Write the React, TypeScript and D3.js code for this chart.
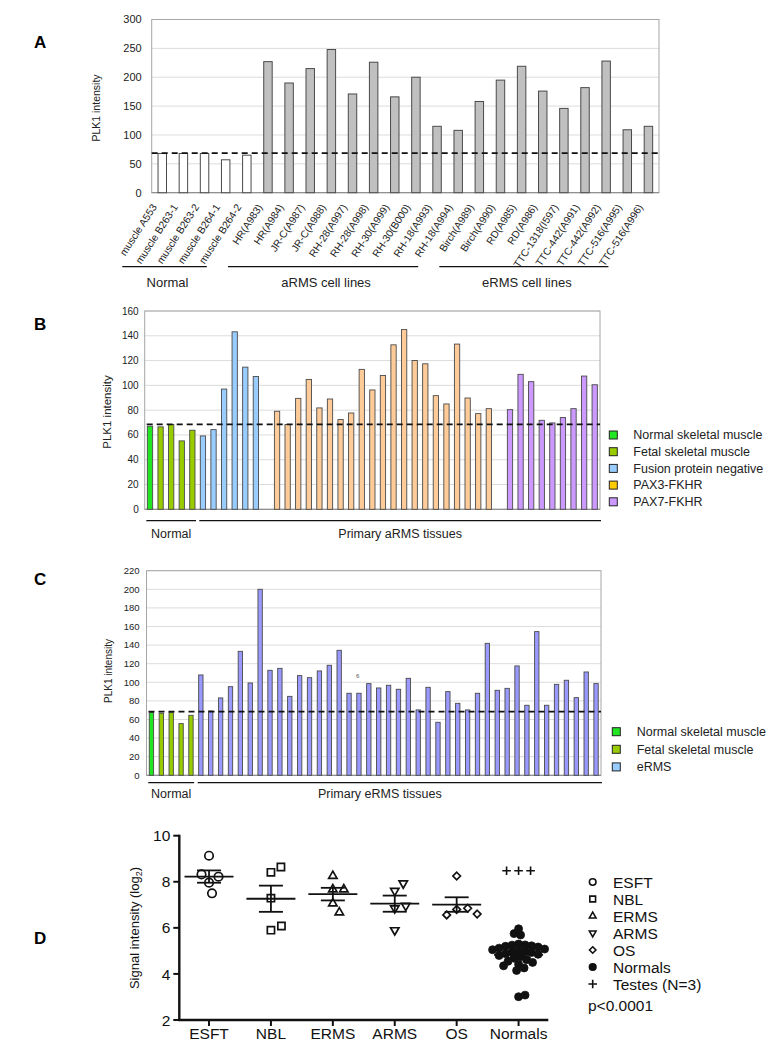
import React from "react";
import * as d3 from "d3";

// ---------------- Panel A data ----------------
const aLabels = [
  "muscle A553", "muscle B263-1", "muscle B263-2", "muscle B264-1", "muscle B264-2",
  "HR(A983)", "HR(A984)", "JR-C(A987)", "JR-C(A988)", "RH-28(A997)", "RH-28(A998)",
  "RH-30(A999)", "RH-30(B000)", "RH-18(A993)", "RH-18(A994)",
  "Birch(A989)", "Birch(A990)", "RD(A985)", "RD(A986)", "TTC-1318(I597)",
  "TTC-442(A991)", "TTC-442(A992)", "TTC-516(A995)", "TTC-516(A996)",
];
const aValues = [68, 68, 68, 57, 65, 227, 190, 215, 248, 171, 226, 166, 200, 115, 108, 158, 195, 219, 176, 146, 182, 228, 109, 115];
const aGroupNames = ["Normal", "aRMS cell lines", "eRMS cell lines"];
const aGroupOf = [0, 0, 0, 0, 0, 1, 1, 1, 1, 1, 1, 1, 1, 1, 1, 2, 2, 2, 2, 2, 2, 2, 2, 2];
const aTicks = [0, 50, 100, 150, 200, 250, 300];

// ---------------- Panel B data ----------------
const bNormal = [67];
const bFetal = [66.5, 68.4, 55.2, 63.8];
const bFusionNeg = [59.2, 64.3, 97, 143.2, 114.7, 107.2];
const bPax3 = [79.1, 68.4, 89.5, 104.8, 81.8, 89, 72.4, 77.7, 112.9, 96.3, 108, 132.7, 145, 120.1, 117.4, 91.7, 85, 133.3, 89.8, 77.2, 81.2];
const bPax7 = [80.4, 108.9, 103, 71.8, 69.7, 74, 81.2, 107.5, 100.5];
const bTicks = [0, 20, 40, 60, 80, 100, 120, 140, 160];
const bLegend = ["Normal skeletal muscle", "Fetal skeletal muscle", "Fusion protein negative", "PAX3-FKHR", "PAX7-FKHR"];

// ---------------- Panel C data ----------------
const cNormal = [67.4];
const cFetal = [66.7, 67.4, 55.6, 64.5];
const cERMS = [107.9, 69.2, 83.2, 95.3, 133.3, 99.3, 200, 112.9, 115, 84.9, 107.2, 105, 112.2, 118.3, 134.4, 88.2, 88.2, 98.6, 93.9, 96.8, 92.5, 104.3, 70.3, 94.6, 57, 90, 77.4, 70.3, 88.2, 141.9, 91.4, 93.5, 117.6, 75.3, 154.5, 75.3, 97.8, 102.2, 83.5, 111.1, 98.6];
const cTicks = [0, 20, 40, 60, 80, 100, 120, 140, 160, 180, 200, 220];
const cLegend = ["Normal skeletal muscle", "Fetal skeletal muscle", "eRMS"];

const THRESHOLD = 68.5;

// ---------------- Panel D data ----------------
const dCategories = ["ESFT", "NBL", "ERMS", "ARMS", "OS", "Normals"];
const dESFT = [9.13, 7.96, 7.5, 8.22, 8.32];
const dNBL = [8.41, 8.64, 7.29, 5.9, 6.08];
const dERMS = [8.25, 7.67, 7.67, 7.06, 6.67];
const dARMS = [7.61, 7.93, 6.85, 6.96, 5.9];
const dOS = [8.25, 6.8, 6.85, 6.56, 6.6];
const dNormals = [5.96, 5.69, 5.75, 5.3, 5.26, 5.25, 5.22, 5.2, 5.17, 5.12, 5.08, 5.05, 5.02, 4.98, 4.95, 4.93, 4.88, 4.85, 4.8, 4.75, 4.68, 4.62, 4.55, 4.5, 4.42, 4.35, 4.26, 4.15, 3.01, 3.08];
const dTestes = [8.48, 8.48, 8.48];
const dTicks = [2, 4, 6, 8, 10];
const dLegend = ["ESFT", "NBL", "ERMS", "ARMS", "OS", "Normals", "Testes (N=3)"];

const FONT = "'Liberation Sans', Arial, Helvetica, sans-serif";
const GRID = "#dcdcdc";
const FRAME = "#a6a6a6";
const BAR_STROKE = "#4a4a4a";

const COLORS = {
  normal: "#22e622",
  fetal: "#99cc00",
  fusion: "#99ccff",
  pax3: "#ffcc99",
  pax3Legend: "#ffcc00",
  pax7: "#cc99ff",
  erms: "#9999ff",
  ermsLegend: "#99ccff",
};

function PanelA() {
  const x0 = 151.7, x1 = 659, top = 19.5, base = 192.7;
  const x = d3.scaleBand<number>().domain(d3.range(aValues.length)).range([x0, x1]).paddingInner(0.6).paddingOuter(0.3);
  const y = d3.scaleLinear().domain([0, 300]).range([base, top]);
  const bw = x.bandwidth();
  const groups = aGroupNames.map((name, g) => {
    const idx = aGroupOf.map((v, i) => (v === g ? i : -1)).filter((i) => i >= 0);
    const first = (x(idx[0]) as number) + bw / 2 - 40;
    const last = (x(idx[idx.length - 1]) as number) + bw / 2 - 40;
    return { name, first, last };
  });
  return (
    <g>
      <text x={34} y={48} fontSize={17} fontWeight="bold" fontFamily={FONT}>A</text>
      {aTicks.slice(1).map((t) => (
        <line key={t} x1={x0} x2={x1} y1={y(t)} y2={y(t)} stroke={GRID} strokeWidth={1} />
      ))}
      <rect x={x0} y={top} width={x1 - x0} height={base - top} fill="none" stroke={FRAME} strokeWidth={1} />
      <line x1={x0} x2={x1} y1={base} y2={base} stroke="#888" strokeWidth={1} />
      {aTicks.map((t) => (
        <text key={t} x={x0 - 10} y={y(t)} dy="0.35em" textAnchor="end" fontSize={11} fontFamily={FONT} fill="#222">{t}</text>
      ))}
      <text transform={`translate(100,108) rotate(-90)`} textAnchor="middle" fontSize={10.5} fontFamily={FONT} fill="#222">PLK1 intensity</text>
      {aValues.map((v, i) => (
        <rect key={i} x={x(i)} y={y(v)} width={bw} height={base - y(v)} fill={aGroupOf[i] === 0 ? "#ffffff" : "#c0c0c0"} stroke={BAR_STROKE} strokeWidth={1} />
      ))}
      <line x1={x0} x2={x1} y1={y(THRESHOLD)} y2={y(THRESHOLD)} stroke="#111" strokeWidth={1.6} strokeDasharray="6,4" />
      {aLabels.map((l, i) => {
        const cx = (x(i) as number) + bw / 2 - 5;
        return (
          <text key={l} transform={`translate(${cx},207) rotate(-57)`} textAnchor="end" fontSize={10.3} fontFamily={FONT} fill="#222">{l}</text>
        );
      })}
      {groups.map((g) => (
        <g key={g.name}>
          <line x1={g.first} x2={g.last} y1={266.7} y2={266.7} stroke="#111" strokeWidth={1.3} />
          <text x={(g.first + g.last) / 2 + 3} y={286.5} textAnchor="middle" fontSize={13} fontFamily={FONT} fill="#222">{g.name}</text>
        </g>
      ))}
    </g>
  );
}

type Slot = { v: number | null; color: string };

function buildSlots(series: { values: number[]; color: string; gapBefore: boolean }[]): Slot[] {
  const slots: Slot[] = [];
  series.forEach((s) => {
    if (s.gapBefore) slots.push({ v: null, color: "none" });
    s.values.forEach((v) => slots.push({ v, color: s.color }));
  });
  return slots;
}

function BarPanel(props: {
  letter: string; letterY: number;
  slots: Slot[]; x0: number; x1: number; top: number; base: number; yMax: number; ticks: number[];
  padInner: number; padOuter: number; tickFont: number; tickGap: number;
  yLabelX: number; yLabelY: number; yLabelFont: number;
  groupSplit: number; groupLineY: number; groupTextY: number; primaryLabel: string; primaryShift: number;
  legend: string[]; legendColors: string[]; legendX: number; legendTextX: number; legendY0: number; legendStep: number;
  extra?: React.ReactNode;
}) {
  const p = props;
  const x = d3.scaleBand<number>().domain(d3.range(p.slots.length)).range([p.x0, p.x1]).paddingInner(p.padInner).paddingOuter(p.padOuter);
  const y = d3.scaleLinear().domain([0, p.yMax]).range([p.base, p.top]);
  const bw = x.bandwidth();
  const nStart = (x(0) as number) - 1;
  const nEnd = (x(p.groupSplit - 1) as number) + bw + 1;
  const pStart = (x(p.groupSplit) as number) - 1;
  const pEnd = p.x1 + 1;
  return (
    <g>
      <text x={34} y={p.letterY} fontSize={17} fontWeight="bold" fontFamily={FONT}>{p.letter}</text>
      {p.ticks.slice(1).map((t) => (
        <line key={t} x1={p.x0} x2={p.x1} y1={y(t)} y2={y(t)} stroke={GRID} strokeWidth={1} />
      ))}
      <rect x={p.x0} y={p.top} width={p.x1 - p.x0} height={p.base - p.top} fill="none" stroke={FRAME} strokeWidth={1} />
      <line x1={p.x0} x2={p.x1} y1={p.base} y2={p.base} stroke="#888" strokeWidth={1} />
      {p.ticks.map((t) => (
        <text key={t} x={p.x0 - p.tickGap} y={y(t)} dy="0.35em" textAnchor="end" fontSize={p.tickFont} fontFamily={FONT} fill="#222">{t}</text>
      ))}
      <text transform={`translate(${p.yLabelX},${p.yLabelY}) rotate(-90)`} textAnchor="middle" fontSize={p.yLabelFont} fontFamily={FONT} fill="#222">PLK1 intensity</text>
      {p.slots.map((s, i) =>
        s.v === null ? null : (
          <rect key={i} x={x(i)} y={y(s.v)} width={bw} height={p.base - y(s.v)} fill={s.color} stroke={BAR_STROKE} strokeWidth={0.9} />
        )
      )}
      <line x1={p.x0 + 2} x2={p.x1} y1={y(THRESHOLD)} y2={y(THRESHOLD)} stroke="#111" strokeWidth={1.6} strokeDasharray="6,4" />
      {p.extra}
      <line x1={nStart} x2={nEnd} y1={p.groupLineY} y2={p.groupLineY} stroke="#111" strokeWidth={1.3} />
      <line x1={pStart} x2={pEnd} y1={p.groupLineY} y2={p.groupLineY} stroke="#111" strokeWidth={1.3} />
      <text x={(nStart + nEnd) / 2} y={p.groupTextY} textAnchor="middle" fontSize={12.5} fontFamily={FONT} fill="#222">Normal</text>
      <text x={(pStart + pEnd) / 2 + p.primaryShift} y={p.groupTextY} textAnchor="middle" fontSize={12.5} fontFamily={FONT} fill="#222">{p.primaryLabel}</text>
      {p.legend.map((l, i) => (
        <g key={l}>
          <rect x={p.legendX} y={p.legendY0 + i * p.legendStep - 4} width={8} height={8} fill={p.legendColors[i]} stroke="#222" strokeWidth={1} />
          <text x={p.legendTextX} y={p.legendY0 + i * p.legendStep} dy="0.35em" fontSize={12.5} fontFamily={FONT} fill="#222">{l}</text>
        </g>
      ))}
    </g>
  );
}

function beeswarm(values: number[], y: (v: number) => number, diam: number) {
  const placed: { x: number; y: number }[] = [];
  return values.map((v) => {
    const py = y(v);
    let dx = 0;
    outer: for (let k = 0; k < 400; k++) {
      const cands = k === 0 ? [0] : [k * 0.5, -k * 0.5];
      for (const c of cands) {
        if (placed.every((q) => (q.x - c) ** 2 + (q.y - py) ** 2 >= diam * diam)) {
          dx = c;
          break outer;
        }
      }
    }
    placed.push({ x: dx, y: py });
    return { v, dx, py };
  });
}

function PanelD() {
  const x0 = 179.3, x1 = 548.3, top = 835.7, base = 1020;
  const x = d3.scalePoint<string>().domain(dCategories).range([x0, x1]).padding(0.48);
  const y = d3.scaleLinear().domain([2, 10]).range([base, top]);
  const circle = d3.symbol().type(d3.symbolCircle).size(56)() as string;
  const square = d3.symbol().type(d3.symbolSquare2).size(66)() as string;
  const tri = d3.symbol().type(d3.symbolTriangle2).size(50)() as string;
  const diamond = d3.symbol().type(d3.symbolDiamond2).size(36)() as string;
  const dot = d3.symbol().type(d3.symbolCircle).size(50)() as string;
  const plus = d3.symbol().type(d3.symbolPlus).size(26)() as string;
  const groups = [
    { cat: "ESFT", values: dESFT, path: circle, rot: 0, fill: "none" },
    { cat: "NBL", values: dNBL, path: square, rot: 0, fill: "none" },
    { cat: "ERMS", values: dERMS, path: tri, rot: 0, fill: "none" },
    { cat: "ARMS", values: dARMS, path: tri, rot: 180, fill: "none" },
    { cat: "OS", values: dOS, path: diamond, rot: 0, fill: "none" },
    { cat: "Normals", values: dNormals, path: dot, rot: 0, fill: "#111" },
  ];
  const lsCircle = d3.symbol().type(d3.symbolCircle).size(34)() as string;
  const lsSquare = d3.symbol().type(d3.symbolSquare2).size(42)() as string;
  const lsTri = d3.symbol().type(d3.symbolTriangle2).size(32)() as string;
  const lsDiamond = d3.symbol().type(d3.symbolDiamond2).size(26)() as string;
  const lsDot = d3.symbol().type(d3.symbolCircle).size(34)() as string;
  const lsPlus = d3.symbol().type(d3.symbolPlus).size(26)() as string;
  const legendSyms = [
    { p: lsCircle, rot: 0, fill: "none" },
    { p: lsSquare, rot: 0, fill: "none" },
    { p: lsTri, rot: 0, fill: "none" },
    { p: lsTri, rot: 180, fill: "none" },
    { p: lsDiamond, rot: 0, fill: "none" },
    { p: lsDot, rot: 0, fill: "#111" },
    { p: lsPlus, rot: 0, fill: "none" },
  ];
  const testes = beeswarm(dTestes, y, 12);
  return (
    <g fontFamily={FONT}>
      <text x={34} y={944} fontSize={17} fontWeight="bold">D</text>
      <line x1={x0} x2={x0} y1={top - 1} y2={base + 1} stroke="#111" strokeWidth={2.4} />
      <line x1={x0 - 1} x2={x1} y1={base} y2={base} stroke="#111" strokeWidth={2.4} />
      {dTicks.map((t) => (
        <g key={t}>
          <line x1={x0 - 6} x2={x0} y1={y(t)} y2={y(t)} stroke="#111" strokeWidth={2} />
          <text x={x0 - 9} y={y(t)} dy="0.36em" textAnchor="end" fontSize={15.5} fill="#111">{t}</text>
        </g>
      ))}
      {dCategories.map((c) => (
        <g key={c}>
          <line x1={x(c)} x2={x(c)} y1={base} y2={base + 6} stroke="#111" strokeWidth={2} />
          <text x={x(c)} y={1039} textAnchor="middle" fontSize={15.5} fill="#111">{c}</text>
        </g>
      ))}
      <text transform={`translate(139,928) rotate(-90)`} textAnchor="middle" fontSize={13} fill="#111">
        Signal intensity (log<tspan fontSize={9} dy={3}>2</tspan><tspan dy={-3}>)</tspan>
      </text>
      {groups.map((g) => {
        const cx = x(g.cat) as number;
        const pts = beeswarm(g.values, y, g.cat === "Normals" ? 6.4 : 11);
        const m = d3.mean(g.values) as number;
        const sem = (d3.deviation(g.values) as number) / Math.sqrt(g.values.length);
        return (
          <g key={g.cat}>
            {pts.map((p, i) => (
              <path key={i} d={g.path} transform={`translate(${cx + p.dx},${p.py}) rotate(${g.rot})`} fill={g.fill} stroke="#111" strokeWidth={g.cat === "Normals" ? 0.8 : 1.7} />
            ))}
            <line x1={cx - 24.5} x2={cx + 24.5} y1={y(m)} y2={y(m)} stroke="#111" strokeWidth={1.8} />
            <line x1={cx} x2={cx} y1={y(m + sem)} y2={y(m - sem)} stroke="#111" strokeWidth={1.8} />
            <line x1={cx - 12} x2={cx + 12} y1={y(m + sem)} y2={y(m + sem)} stroke="#111" strokeWidth={1.8} />
            <line x1={cx - 12} x2={cx + 12} y1={y(m - sem)} y2={y(m - sem)} stroke="#111" strokeWidth={1.8} />
          </g>
        );
      })}
      {testes.map((p, i) => (
        <path key={i} d={plus} transform={`translate(${(x("Normals") as number) + p.dx},${p.py})`} fill="none" stroke="#111" strokeWidth={1.6} />
      ))}
      {dLegend.map((l, i) => (
        <g key={l}>
          <path d={legendSyms[i].p} transform={`translate(592.7,${882 + i * 17}) rotate(${legendSyms[i].rot})`} fill={legendSyms[i].fill} stroke="#111" strokeWidth={1.6} />
          <text x={613} y={882 + i * 17} dy="0.36em" fontSize={15.5} fill="#111">{l}</text>
        </g>
      ))}
      <text x={588} y={1011} fontSize={15.5} fill="#111">p&lt;0.0001</text>
    </g>
  );
}

export default function App() {
  const bSlots = buildSlots([
    { values: bNormal, color: COLORS.normal, gapBefore: false },
    { values: bFetal, color: COLORS.fetal, gapBefore: false },
    { values: bFusionNeg, color: COLORS.fusion, gapBefore: false },
    { values: bPax3, color: COLORS.pax3, gapBefore: true },
    { values: bPax7, color: COLORS.pax7, gapBefore: true },
  ]);
  const cSlots = buildSlots([
    { values: cNormal, color: COLORS.normal, gapBefore: false },
    { values: cFetal, color: COLORS.fetal, gapBefore: false },
    { values: cERMS, color: COLORS.erms, gapBefore: false },
  ]);
  const normalCount = bNormal.length + bFetal.length;
  const cNormalCount = cNormal.length + cFetal.length;
  return (
    <svg width={783} height={1050} style={{ position: "absolute", left: 0, top: 0, background: "#fff" }} fontFamily={FONT}>
      <rect width={783} height={1050} fill="#fff" />
      <PanelA />
      <BarPanel
        letter="B" letterY={330}
        slots={bSlots} x0={144.7} x1={600} top={311} base={509.3} yMax={160} ticks={bTicks}
        padInner={0.5} padOuter={0.25} tickFont={10} tickGap={6}
        yLabelX={111} yLabelY={412} yLabelFont={11.5}
        groupSplit={normalCount} groupLineY={520.7} groupTextY={537.5} primaryLabel="Primary aRMS tissues" primaryShift={0}
        legend={bLegend} legendColors={[COLORS.normal, COLORS.fetal, COLORS.fusion, COLORS.pax3Legend, COLORS.pax7]}
        legendX={609.3} legendTextX={633.3} legendY0={435} legendStep={16.7}
      />
      <BarPanel
        letter="C" letterY={585}
        slots={cSlots} x0={146.5} x1={601} top={570.7} base={775.3} yMax={220} ticks={cTicks}
        padInner={0.56} padOuter={0.28} tickFont={9.5} tickGap={7}
        yLabelX={112} yLabelY={671} yLabelFont={10}
        groupSplit={cNormalCount} groupLineY={782.7} groupTextY={797.5} primaryLabel="Primary eRMS tissues" primaryShift={-20}
        legend={cLegend} legendColors={[COLORS.normal, COLORS.fetal, COLORS.ermsLegend]}
        legendX={612.3} legendTextX={636.7} legendY0={731.7} legendStep={17.6}
        extra={<text x={357.7} y={678} fontSize={6} fill="#555" textAnchor="middle">6</text>}
      />
      <PanelD />
    </svg>
  );
}
